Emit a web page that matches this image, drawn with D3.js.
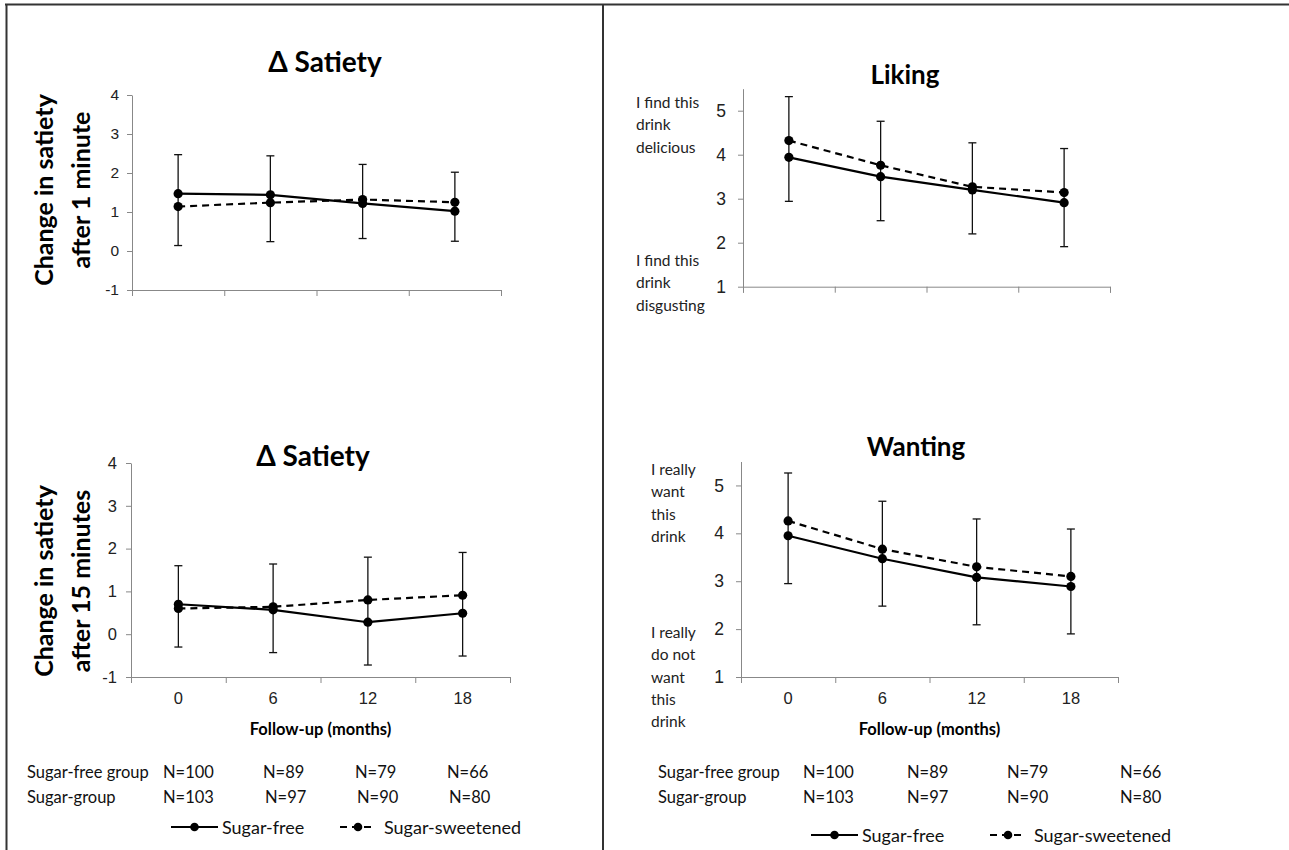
<!DOCTYPE html>
<html>
<head>
<meta charset="utf-8">
<script src="https://cdn.jsdelivr.net/npm/d3@7"></script>
<style>
  body { margin: 0; background: #fff; }
  svg { font-family: Lato, "Open Sans", sans-serif; }
  .axis path, .axis line { stroke: #888; }
  .axis text { fill: #222; }
</style>
</head>
<body>
<div id="chart"></div>
<script>
// data
const months = [0, 6, 12, 18];

const sat1Free = [1.47, 1.44, 1.22, 1.02];
const sat1Sweet = [1.14, 1.24, 1.32, 1.25];
const sat1Hi = [2.47, 2.44, 2.22, 2.02];
const sat1Lo = [0.14, 0.24, 0.32, 0.25];

const sat15Free = [0.70, 0.57, 0.28, 0.49];
const sat15Sweet = [0.60, 0.64, 0.80, 0.91];
const sat15Hi = [1.60, 1.64, 1.80, 1.91];
const sat15Lo = [-0.30, -0.43, -0.72, -0.51];

const likingFree = [3.94, 3.50, 3.20, 2.91];
const likingSweet = [4.32, 3.76, 3.27, 3.14];
const likingHi = [5.32, 4.76, 4.27, 4.14];
const likingLo = [2.94, 2.50, 2.20, 1.91];

const wantingFree = [3.95, 3.47, 3.08, 2.89];
const wantingSweet = [4.26, 3.67, 3.30, 3.10];
const wantingHi = [5.26, 4.67, 4.30, 4.09];
const wantingLo = [2.95, 2.48, 2.09, 1.90];

const nFree = [100, 89, 79, 66];
const nSugar = [103, 97, 90, 80];
const rowLabels = ['Sugar-free group', 'Sugar-group'];
const seriesNames = ['Sugar-free', 'Sugar-sweetened'];

const W = 1289, H = 850;
const svg = d3.select('#chart').append('svg').attr('width', W).attr('height', H);

// frame
svg.append('line').attr('x1', 5).attr('x2', W).attr('y1', 4.5).attr('y2', 4.5).attr('stroke', '#333').attr('stroke-width', 2);
svg.append('line').attr('x1', 6.5).attr('x2', 6.5).attr('y1', 4).attr('y2', H).attr('stroke', '#333').attr('stroke-width', 2);
svg.append('line').attr('x1', 603).attr('x2', 603).attr('y1', 4).attr('y2', H).attr('stroke', '#333').attr('stroke-width', 2);

const plainNum = d => String(d); // keeps "-1" with a hyphen like the source

function panel(cfg) {
  const x = d3.scaleBand().domain(months).range([cfg.x0, cfg.x1]);
  const y = d3.scaleLinear().domain(cfg.yDomain).range([cfg.yBottom, cfg.yTop]);
  const g = svg.append('g');

  // y axis
  const yAxis = d3.axisLeft(y).tickValues(cfg.yTicks).tickFormat(plainNum).tickSize(5).tickSizeOuter(0).tickPadding(cfg.yPad);
  g.append('g').attr('class', 'axis').attr('transform', `translate(${cfg.x0},0)`).call(yAxis)
    .call(s => s.selectAll('text').style('font-size', cfg.tickFont + 'px'));

  // x axis: tick marks at the band edges, labels at the band centres
  const edges = d3.scaleLinear().domain([0, months.length]).range([cfg.x0, cfg.x1]);
  g.append('g').attr('class', 'axis').attr('transform', `translate(0,${cfg.yBottom})`)
    .call(d3.axisBottom(edges).ticks(months.length).tickSize(6).tickSizeOuter(6).tickFormat(''));
  if (cfg.xLabels) {
    const xl = g.append('g').attr('class', 'axis').attr('transform', `translate(0,${cfg.yBottom})`)
      .call(d3.axisBottom(x).tickSize(0).tickPadding(15));
    xl.select('path').remove();
    xl.selectAll('text').style('font-size', '16.5px');
    g.append('text').attr('x', (cfg.x0 + cfg.x1) / 2).attr('y', cfg.yBottom + 58)
      .attr('text-anchor', 'middle').style('font-size', '16.5px').style('font-weight', 'bold')
      .text('Follow-up (months)');
  }

  const cx = d => x(d) + x.bandwidth() / 2;

  // error bars
  const eb = g.append('g').attr('stroke', '#111').attr('stroke-width', 1.3);
  months.forEach((m, i) => {
    eb.append('line').attr('x1', cx(m)).attr('x2', cx(m)).attr('y1', y(cfg.hi[i])).attr('y2', y(cfg.lo[i]));
    [cfg.hi[i], cfg.lo[i]].forEach(v => {
      eb.append('line').attr('x1', cx(m) - 4).attr('x2', cx(m) + 4).attr('y1', y(v)).attr('y2', y(v));
    });
  });

  const line = d3.line().x((d, i) => cx(months[i])).y(d => y(d));
  [[cfg.free, null], [cfg.sweet, '7,5']].forEach(([vals, dash]) => {
    g.append('path').datum(vals).attr('d', line).attr('fill', 'none').attr('stroke', '#000')
      .attr('stroke-width', 2.2).attr('stroke-dasharray', dash);
    g.selectAll(null).data(vals).enter().append('circle')
      .attr('cx', (d, i) => cx(months[i])).attr('cy', d => y(d)).attr('r', 4.6).attr('fill', '#000');
  });

  // title
  g.append('text').attr('x', cfg.titleX).attr('y', cfg.titleY).attr('text-anchor', 'middle')
    .style('font-size', cfg.titleFont + 'px').style('font-weight', 'bold').text(cfg.title);

  // y title or anchor labels
  if (cfg.yTitle) {
    cfg.yTitle.forEach((t, k) => {
      g.append('text').attr('transform', `translate(${cfg.yTitleX[k]},${cfg.yTitleY}) rotate(-90)`)
        .attr('text-anchor', 'middle').attr('dominant-baseline', 'central')
        .style('font-size', '25px').style('font-weight', 'bold').text(t);
    });
  }
  if (cfg.anchors) {
    cfg.anchors.forEach(a => {
      const t = g.append('text').attr('x', cfg.anchorX).attr('y', a.y).style('font-size', '15.5px').attr('fill', '#222');
      a.lines.forEach((l, k) => t.append('tspan').attr('x', cfg.anchorX).attr('dy', k ? 22.3 : 0).text(l));
    });
  }
}

panel({
  x0: 132, x1: 501, yBottom: 290, yTop: 95, yDomain: [-1, 4], yTicks: [-1, 0, 1, 2, 3, 4], tickFont: 15.5, yPad: 8,
  free: sat1Free, sweet: sat1Sweet, hi: sat1Hi, lo: sat1Lo,
  title: 'Δ Satiety', titleX: 325, titleY: 72, titleFont: 28,
  yTitle: ['Change in satiety', 'after 1 minute'], yTitleX: [43, 80], yTitleY: 190
});
panel({
  x0: 131, x1: 510, yBottom: 677, yTop: 463, yDomain: [-1, 4], yTicks: [-1, 0, 1, 2, 3, 4], tickFont: 16.5, yPad: 9,
  free: sat15Free, sweet: sat15Sweet, hi: sat15Hi, lo: sat15Lo, xLabels: true,
  title: 'Δ Satiety', titleX: 313, titleY: 466, titleFont: 28,
  yTitle: ['Change in satiety', 'after 15 minutes'], yTitleX: [43, 80], yTitleY: 581
});
panel({
  x0: 743, x1: 1110, yBottom: 286.7, yTop: 88.7, yDomain: [1, 5.5], yTicks: [1, 2, 3, 4, 5], tickFont: 17.5, yPad: 12,
  free: likingFree, sweet: likingSweet, hi: likingHi, lo: likingLo,
  title: 'Liking', titleX: 905, titleY: 84, titleFont: 26,
  anchorX: 636, anchors: [
    { y: 108, lines: ['I find this', 'drink', 'delicious'] },
    { y: 266, lines: ['I find this', 'drink', 'disgusting'] }
  ]
});
panel({
  x0: 741, x1: 1118, yBottom: 677, yTop: 461.5, yDomain: [1, 5.5], yTicks: [1, 2, 3, 4, 5], tickFont: 17.5, yPad: 12,
  free: wantingFree, sweet: wantingSweet, hi: wantingHi, lo: wantingLo, xLabels: true,
  title: 'Wanting', titleX: 916, titleY: 456, titleFont: 26,
  anchorX: 651, anchors: [
    { y: 475, lines: ['I really', 'want', 'this', 'drink'] },
    { y: 638, lines: ['I really', 'do not', 'want', 'this', 'drink'] }
  ]
});

// sample size tables and legends
function footer(f) {
  const g = svg.append('g').attr('fill', '#111');
  [nFree, nSugar].forEach((ns, r) => {
    const yy = f.y0 + r * 24.5;
    g.append('text').attr('x', f.labelX).attr('y', yy).attr('dominant-baseline', 'central').style('font-size', '16.5px').text(rowLabels[r]);
    ns.forEach((n, i) => g.append('text').attr('x', f.colX[i] + (r && i ? f.shift : 0)).attr('y', yy)
      .attr('dominant-baseline', 'central').style('font-size', '16.5px').text('N=' + n));
  });
  seriesNames.forEach((name, k) => {
    const lx = f.legX[k], len = k ? 36 : 47;
    g.append('line').attr('x1', lx).attr('x2', lx + len).attr('y1', f.legY).attr('y2', f.legY)
      .attr('stroke', '#000').attr('stroke-width', 2.2).attr('stroke-dasharray', k ? '7,5' : null);
    g.append('circle').attr('cx', lx + len / 2).attr('cy', f.legY).attr('r', 4.3).attr('fill', '#000');
    g.append('text').attr('x', lx + len + (k ? 8 : 4)).attr('y', f.legY).attr('dominant-baseline', 'central')
      .style('font-size', '18px').text(name);
  });
}
footer({ y0: 772, labelX: 27, colX: [163, 263, 355, 447], shift: 2, legY: 827, legX: [171, 340] });
footer({ y0: 772, labelX: 658, colX: [803, 907, 1007, 1120], shift: 0, legY: 835, legX: [811, 990] });
</script>
</body>
</html>
